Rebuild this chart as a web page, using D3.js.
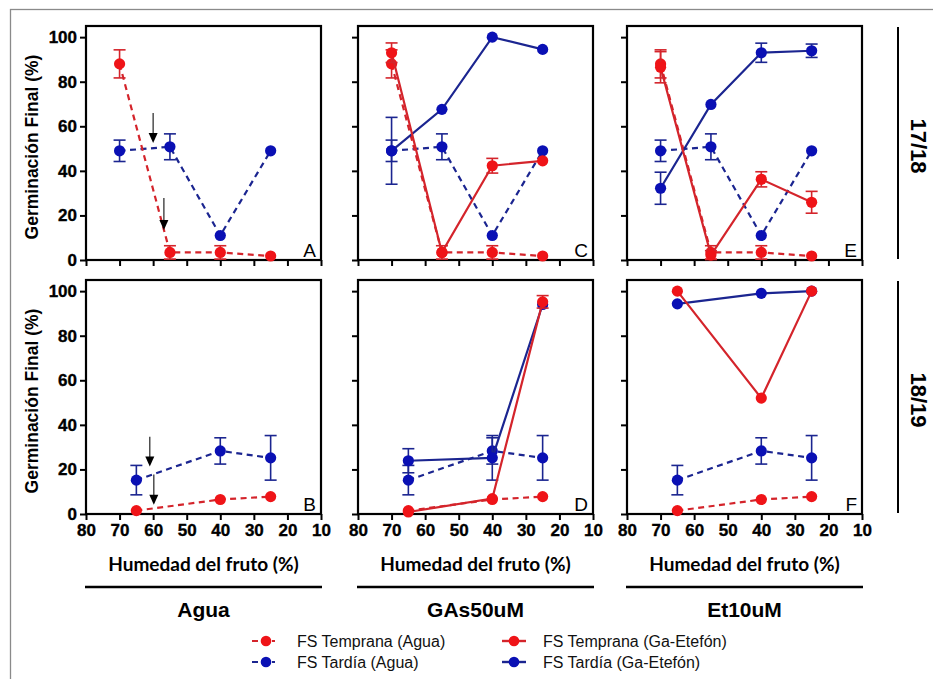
<!DOCTYPE html>
<html>
<head>
<meta charset="utf-8">
<script src="https://cdn.jsdelivr.net/npm/d3@7/dist/d3.min.js"></script>
<style>
  html, body { margin: 0; padding: 0; background: #fff; }
  svg { display: block; }
</style>
</head>
<body>
<svg id="chart" width="933" height="679"></svg>
<script>
// ---------------- DATA ----------------
const xTop = [70, 55, 40, 25];          // humedad del fruto (%) 17/18
const xBottom = [65, 40, 25];           // humedad del fruto (%) 18/19
const xTicks = [80, 70, 60, 50, 40, 30, 20, 10];
const yTicks = [0, 20, 40, 60, 80, 100];
const treatments = ["Agua", "GAs50uM", "Et10uM"];
const seasons = ["17/18", "18/19"];
const panelLetters = [["A", "C", "E"], ["B", "D", "F"]];

// 17/18 — Agua controls (dashed)
const tempranaAgua1718 = [88, 3.4, 3.4, 1.8];
const tempranaAgua1718Err = [6.3, 3, 3, 0];
const tardiaAgua1718 = [49, 50.8, 11, 49];
const tardiaAgua1718Err = [4.8, 5.8, 0, 0];
// 17/18 — GAs50uM (solid)
const tempranaGA1718 = [93, 3.4, 42.3, 44.5];
const tempranaGA1718Err = [4.4, 0, 3.3, 0];
const tardiaGA1718 = [49, 67.6, 100, 94.5];
const tardiaGA1718Err = [15, 0, 0, 0];
// 17/18 — Et10uM (solid)
const tempranaEt1718 = [86.5, 2.2, 36.2, 25.9];
const tempranaEt1718Err = [7, 2, 3.4, 4.9];
const tardiaEt1718 = [32.2, 69.8, 93, 93.9];
const tardiaEt1718Err = [7.2, 0, 4.3, 3];

// 18/19 — Agua controls (dashed)
const tempranaAgua1819 = [1.5, 6.5, 7.8];
const tempranaAgua1819Err = [0, 0, 0];
const tardiaAgua1819 = [15.2, 28.3, 25.2];
const tardiaAgua1819Err = [6.6, 5.9, 10];
// 18/19 — GAs50uM (solid)
const tempranaGA1819 = [0.9, 6.9, 95.2];
const tempranaGA1819Err = [0, 0, 2.8];
const tardiaGA1819 = [23.9, 25.2, 94];
const tardiaGA1819Err = [5.4, 10, 0];
// 18/19 — Et10uM (solid)
const tempranaEt1819 = [100, 52, 100];
const tempranaEt1819Err = [0, 0, 0];
const tardiaEt1819 = [94.3, 99, 100];
const tardiaEt1819Err = [0, 0, 0];

// arrows (annotation, data units) in Agua panels
const arrowsTop = [{x: 60, y0: 66, y1: 52.5}, {x: 56.8, y0: 27.8, y1: 13.5}];
const arrowsBottom = [{x: 61, y0: 34.7, y1: 21.3}, {x: 59.8, y0: 17.7, y1: 4.2}];

const legendLabels = ["FS Temprana (Agua)", "FS Tardía (Agua)", "FS Temprana (Ga-Etefón)", "FS Tardía (Ga-Etefón)"];

// ---------------- STYLE ----------------
const RED_DOT = "#ef1418", RED_LINE = "#d4242b";
const BLUE_DOT = "#0a10b4", BLUE_LINE = "#1b2590";
const FONT = "Arial, 'Liberation Sans', sans-serif";

// series construction
function S(xs, ys, es, color, dashed) {
  return { pts: xs.map((x, i) => ({x, y: ys[i], e: es[i]})), color, dashed };
}
const agua1718 = [S(xTop, tardiaAgua1718, tardiaAgua1718Err, "blue", true), S(xTop, tempranaAgua1718, tempranaAgua1718Err, "red", true)];
const agua1819 = [S(xBottom, tardiaAgua1819, tardiaAgua1819Err, "blue", true), S(xBottom, tempranaAgua1819, tempranaAgua1819Err, "red", true)];
const panels = [
  [
    agua1718,
    agua1718.concat([S(xTop, tardiaGA1718, tardiaGA1718Err, "blue", false), S(xTop, tempranaGA1718, tempranaGA1718Err, "red", false)]),
    agua1718.concat([S(xTop, tardiaEt1718, tardiaEt1718Err, "blue", false), S(xTop, tempranaEt1718, tempranaEt1718Err, "red", false)])
  ],
  [
    agua1819,
    agua1819.concat([S(xBottom, tardiaGA1819, tardiaGA1819Err, "blue", false), S(xBottom, tempranaGA1819, tempranaGA1819Err, "red", false)]),
    agua1819.concat([S(xBottom, tardiaEt1819, tardiaEt1819Err, "blue", false), S(xBottom, tempranaEt1819, tempranaEt1819Err, "red", false)])
  ]
];

// ---------------- LAYOUT ----------------
const svg = d3.select("#chart");
svg.append("rect").attr("x", 10.5).attr("y", 9.5).attr("width", 940).attr("height", 700)
  .attr("fill", "none").attr("stroke", "#8a8a8a").attr("stroke-width", 1.3);

const colLeft = [86, 358, 627];
const panelW = 235;
const rowTop = [26, 280];
const panelH = 234;

for (let r = 0; r < 2; r++) {
  for (let c = 0; c < 3; c++) {
    const x = d3.scaleLinear().domain([80, 10]).range([colLeft[c], colLeft[c] + panelW]);
    const y = d3.scaleLinear().domain([0, 105]).range([rowTop[r] + panelH, rowTop[r]]);
    const g = svg.append("g");

    // axes
    const ya = d3.axisLeft(y).tickValues(yTicks).tickSize(6).tickPadding(3)
      .tickFormat(c === 0 ? d3.format("d") : () => "");
    const yg = g.append("g").attr("transform", `translate(${colLeft[c]},0)`).call(ya);
    const xa = d3.axisBottom(x).tickValues(xTicks).tickSize(6).tickPadding(4)
      .tickFormat(r === 1 ? d3.format("d") : () => "");
    const xg = g.append("g").attr("transform", `translate(0,${rowTop[r] + panelH})`).call(xa);
    [yg, xg].forEach(a => {
      a.select(".domain").remove();
      a.selectAll(".tick line").attr("stroke", "#000").attr("stroke-width", 2);
      a.selectAll(".tick text").attr("fill", "#000").attr("stroke", "#000").attr("stroke-width", 0.35)
        .style("font-family", FONT).style("font-weight", "bold").style("font-size", "17px");
    });

    // frame
    g.append("rect").attr("x", colLeft[c]).attr("y", rowTop[r]).attr("width", panelW).attr("height", panelH)
      .attr("fill", "none").attr("stroke", "#000").attr("stroke-width", 2.2);

    // series
    const line = d3.line().x(d => x(d.x)).y(d => y(d.y));
    panels[r][c].forEach(s => {
      const lc = s.color === "red" ? RED_LINE : BLUE_LINE;
      const dc = s.color === "red" ? RED_DOT : BLUE_DOT;
      const sg = g.append("g");
      sg.append("path").datum(s.pts).attr("d", line).attr("fill", "none")
        .attr("stroke", lc).attr("stroke-width", 2.2)
        .attr("stroke-dasharray", s.dashed ? "6,4.5" : null);
      // error bars
      s.pts.filter(p => p.e > 0).forEach(p => {
        const eg = sg.append("g").attr("stroke", lc).attr("stroke-width", 1.6);
        eg.append("line").attr("x1", x(p.x)).attr("x2", x(p.x)).attr("y1", y(p.y - p.e)).attr("y2", y(p.y + p.e));
        eg.append("line").attr("x1", x(p.x) - 6).attr("x2", x(p.x) + 6).attr("y1", y(p.y + p.e)).attr("y2", y(p.y + p.e));
        eg.append("line").attr("x1", x(p.x) - 6).attr("x2", x(p.x) + 6).attr("y1", y(p.y - p.e)).attr("y2", y(p.y - p.e));
      });
      sg.selectAll("circle").data(s.pts).join("circle")
        .attr("cx", d => x(d.x)).attr("cy", d => y(d.y)).attr("r", 5.6).attr("fill", dc);
    });

    // arrows in Agua panels
    if (c === 0) {
      (r === 0 ? arrowsTop : arrowsBottom).forEach(a => {
        const ax = x(a.x), y0 = y(a.y0), y1 = y(a.y1);
        g.append("line").attr("x1", ax).attr("x2", ax).attr("y1", y0).attr("y2", y1 - 8)
          .attr("stroke", "#333").attr("stroke-width", 1.3);
        g.append("path").attr("d", `M${ax - 4.5},${y1 - 10} L${ax + 4.5},${y1 - 10} L${ax},${y1} Z`).attr("fill", "#000");
      });
    }

    // panel letter
    g.append("text").attr("x", colLeft[c] + panelW - 5).attr("y", rowTop[r] + panelH - 3)
      .attr("text-anchor", "end").style("font-family", FONT).style("font-size", "19px")
      .attr("fill", "#000").text(panelLetters[r][c]);

    // y axis title
    if (c === 0) {
      const cy = rowTop[r] + panelH / 2 + 4;
      g.append("text").attr("transform", `translate(38,${cy}) rotate(-90)`).attr("text-anchor", "middle")
        .style("font-family", FONT).style("font-weight", "bold").style("font-size", "17.5px")
        .attr("fill", "#000").text("Germinación Final (%)");
    }
  }
  // season label
  const lx = 898;
  svg.append("line").attr("x1", lx).attr("x2", lx).attr("y1", rowTop[r] + 1).attr("y2", rowTop[r] + panelH - 1)
    .attr("stroke", "#000").attr("stroke-width", 2);
  svg.append("text").attr("transform", `translate(911,${rowTop[r] + panelH / 2 + 3}) rotate(90)`)
    .attr("text-anchor", "middle").style("font-family", FONT).style("font-weight", "bold")
    .style("font-size", "22px").attr("fill", "#000").text(seasons[r]);
}

// x titles, separators, treatment labels
for (let c = 0; c < 3; c++) {
  const cx = colLeft[c] + panelW / 2;
  svg.append("text").attr("x", cx).attr("y", 571).attr("text-anchor", "middle")
    .style("font-family", "Lato, 'Open Sans', sans-serif").style("font-weight", "bold").style("font-size", "19px")
    .attr("fill", "#000").text("Humedad del fruto (%)");
  svg.append("line").attr("x1", colLeft[c] - 1).attr("x2", colLeft[c] + panelW + 1).attr("y1", 587).attr("y2", 587)
    .attr("stroke", "#000").attr("stroke-width", 2.6);
  svg.append("text").attr("x", cx).attr("y", 617).attr("text-anchor", "middle")
    .style("font-family", FONT).style("font-weight", "bold").style("font-size", "21px")
    .attr("fill", "#000").text(treatments[c]);
}

// legend
const legItems = [
  {mx: 266, y: 641, color: "red", dashed: true, tx: 297, label: legendLabels[0]},
  {mx: 266, y: 662, color: "blue", dashed: true, tx: 297, label: legendLabels[1]},
  {mx: 514, y: 641, color: "red", dashed: false, tx: 543, label: legendLabels[2]},
  {mx: 514, y: 662, color: "blue", dashed: false, tx: 543, label: legendLabels[3]}
];
legItems.forEach(it => {
  const lc = it.color === "red" ? RED_LINE : BLUE_LINE;
  const dc = it.color === "red" ? RED_DOT : BLUE_DOT;
  if (it.dashed) {
    svg.append("line").attr("x1", it.mx - 14).attr("x2", it.mx + 14).attr("y1", it.y).attr("y2", it.y)
      .attr("stroke", lc).attr("stroke-width", 2.2).attr("stroke-dasharray", "6,14,3,40");
  } else {
    svg.append("line").attr("x1", it.mx - 12).attr("x2", it.mx + 12).attr("y1", it.y).attr("y2", it.y)
      .attr("stroke", lc).attr("stroke-width", 2.4);
  }
  svg.append("circle").attr("cx", it.mx).attr("cy", it.y).attr("r", 5.3).attr("fill", dc);
  svg.append("text").attr("x", it.tx).attr("y", it.y + 5.5).style("font-family", FONT)
    .style("font-size", "16px").attr("fill", "#111").text(it.label);
});
</script>
</body>
</html>
